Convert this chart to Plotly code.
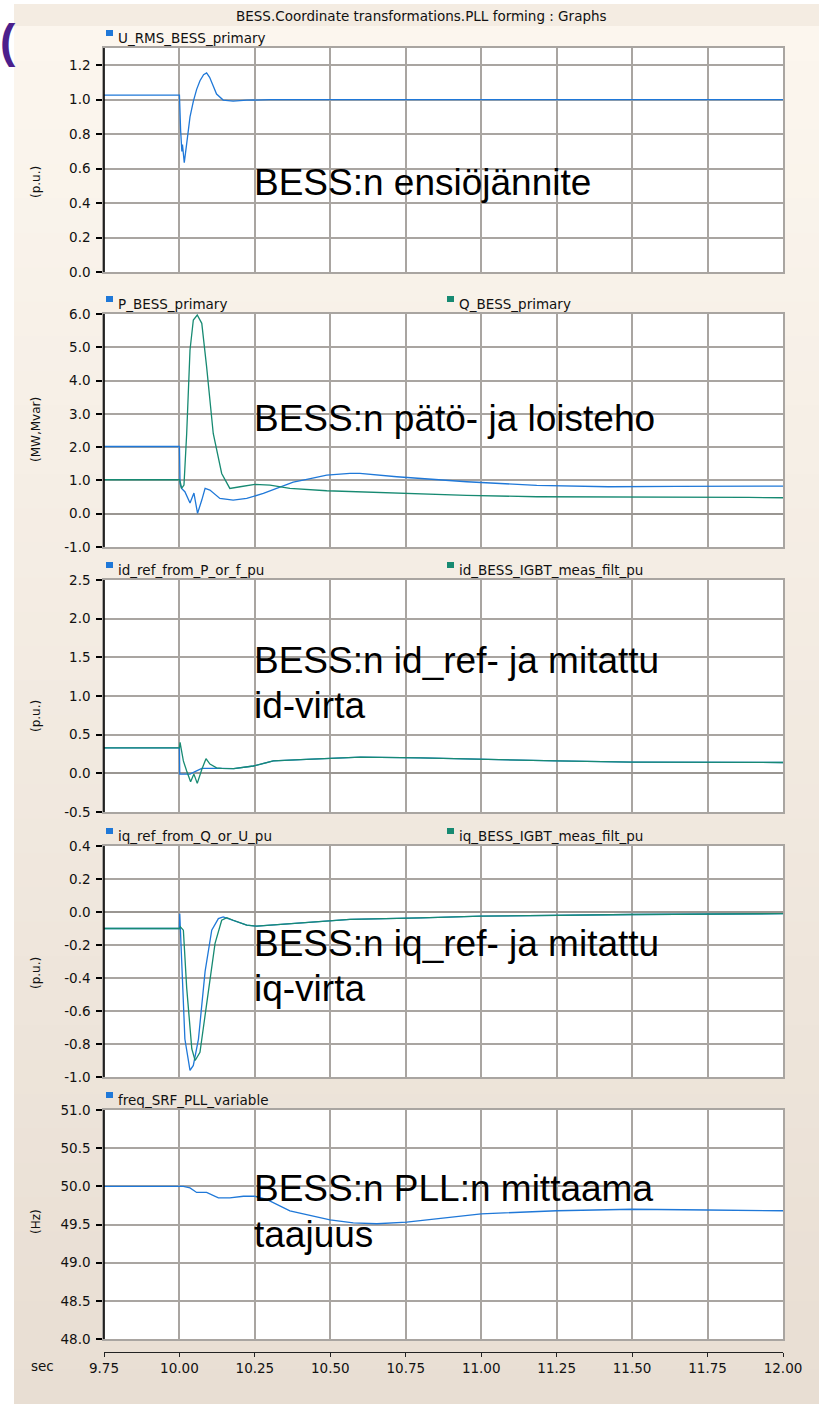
import plotly.graph_objects as go

W, H = 819, 1404

# ---- time series (s) and values ----
t_u = [9.75, 10.0, 10.004, 10.008, 10.010, 10.016, 10.024, 10.035, 10.046, 10.057, 10.068,
       10.08, 10.09, 10.10, 10.112, 10.123, 10.145, 10.178, 10.223, 10.3, 11.0, 12.0]
u_rms = [1.027, 1.027, 0.82, 0.70, 0.74, 0.635, 0.745, 0.90, 0.99, 1.06, 1.11,
         1.145, 1.155, 1.13, 1.08, 1.033, 0.998, 0.992, 0.997, 1.0, 1.0, 1.0]

t_p = [9.75, 10.0, 10.002, 10.007, 10.018, 10.035, 10.048, 10.060, 10.074, 10.085, 10.101,
       10.134, 10.178, 10.223, 10.278, 10.333, 10.377, 10.422, 10.488, 10.565, 10.598, 10.72,
       10.952, 11.184, 11.421, 11.648, 11.885, 12.0]
p_bess = [2.02, 2.02, 0.9, 0.76, 0.66, 0.32, 0.62, 0.01, 0.41, 0.76, 0.71,
          0.46, 0.41, 0.46, 0.61, 0.81, 0.95, 1.03, 1.16, 1.21, 1.21, 1.11,
          0.96, 0.85, 0.81, 0.82, 0.83, 0.83]

t_q = [9.75, 10.0, 10.004, 10.007, 10.015, 10.024, 10.035, 10.046, 10.059, 10.074, 10.090,
       10.112, 10.140, 10.167, 10.201, 10.250, 10.300, 10.366, 10.488, 10.72, 10.952,
       11.184, 11.421, 11.648, 11.885, 12.0]
q_bess = [1.02, 1.02, 0.9, 0.76, 0.86, 2.41, 4.92, 5.82, 5.97, 5.72, 4.42,
          2.41, 1.21, 0.76, 0.81, 0.88, 0.86, 0.76, 0.69, 0.61, 0.55,
          0.51, 0.51, 0.50, 0.49, 0.48]

t_idref = [9.75, 10.0, 10.001, 10.035, 10.05, 10.074, 10.14, 10.18, 10.245, 10.311, 10.42,
           10.6, 10.8, 11.0, 11.25, 11.5, 11.75, 12.0]
id_ref = [0.33, 0.33, -0.01, -0.01, 0.02, 0.065, 0.065, 0.06, 0.095, 0.16, 0.18,
          0.21, 0.20, 0.18, 0.16, 0.145, 0.14, 0.14]

t_idmeas = [9.75, 10.0, 10.002, 10.013, 10.024, 10.037, 10.048, 10.059, 10.074, 10.088, 10.101,
            10.123, 10.14, 10.18, 10.245, 10.311, 10.42, 10.6, 10.8, 11.0, 11.25, 11.5, 11.75, 12.0]
id_meas = [0.33, 0.33, 0.40, 0.16, 0.03, -0.11, -0.01, -0.13, 0.05, 0.19, 0.12,
           0.07, 0.065, 0.06, 0.095, 0.16, 0.18, 0.21, 0.20, 0.18, 0.16, 0.145, 0.14, 0.14]

t_iqref = [9.75, 10.0, 10.001, 10.007, 10.018, 10.035, 10.046, 10.063, 10.085, 10.107, 10.129,
           10.145, 10.178, 10.223, 10.256, 10.366, 10.565, 10.8, 11.0, 11.5, 12.0]
iq_ref = [-0.10, -0.10, -0.01, -0.30, -0.77, -0.96, -0.93, -0.77, -0.36, -0.11, -0.04,
          -0.03, -0.05, -0.08, -0.086, -0.07, -0.045, -0.035, -0.025, -0.015, -0.01]

t_iqmeas = [9.75, 10.0, 10.003, 10.013, 10.024, 10.041, 10.052, 10.068, 10.090, 10.118, 10.140,
            10.157, 10.178, 10.223, 10.256, 10.366, 10.565, 10.8, 11.0, 11.5, 12.0]
iq_meas = [-0.10, -0.10, -0.09, -0.11, -0.46, -0.83, -0.90, -0.85, -0.56, -0.19, -0.05,
           -0.034, -0.05, -0.08, -0.086, -0.07, -0.045, -0.035, -0.025, -0.015, -0.01]

t_f = [9.75, 10.0, 10.013, 10.035, 10.057, 10.090, 10.107, 10.129, 10.167, 10.212, 10.250,
       10.289, 10.366, 10.432, 10.499, 10.576, 10.654, 10.753, 11.0, 11.25, 11.5, 11.75, 12.0]
freq = [50.0, 50.0, 50.0, 49.98, 49.92, 49.92, 49.89, 49.85, 49.85, 49.87, 49.87,
        49.83, 49.68, 49.62, 49.56, 49.52, 49.51, 49.53, 49.64, 49.68, 49.70, 49.69, 49.68]

# ---- tick labels ----
x_ticks = [9.75, 10.0, 10.25, 10.5, 10.75, 11.0, 11.25, 11.5, 11.75, 12.0]
x_labels = ["9.75", "10.00", "10.25", "10.50", "10.75", "11.00", "11.25", "11.50", "11.75", "12.00"]
y1_ticks = [0.0, 0.2, 0.4, 0.6, 0.8, 1.0, 1.2]
y2_ticks = [-1, 0, 1, 2, 3, 4, 5, 6]
y3_ticks = [-0.5, 0.0, 0.5, 1.0, 1.5, 2.0, 2.5]
y4_ticks = [-1.0, -0.8, -0.6, -0.4, -0.2, 0.0, 0.2, 0.4]
y5_ticks = [48.0, 48.5, 49.0, 49.5, 50.0, 50.5, 51.0]


def fmt(v):
    return "%.1f" % v


BLUE = "#1f78d8"
GREEN = "#178a72"
GRID = "#a9a5a1"
AXFONT = "DejaVu Sans, sans-serif"
BIGFONT = "Liberation Sans, Arial, sans-serif"
SMALL = 13.5


def px(x):
    return x / W


def py(y):
    return 1 - y / H


# panel pixel boxes (top, bottom)
panels = [(48, 272), (314, 547), (580, 812), (846, 1077), (1110, 1339)]
XL, XR = 104, 783

fig = go.Figure()

series = [
    (1, t_u, u_rms, BLUE),
    (2, t_p, p_bess, BLUE),
    (2, t_q, q_bess, GREEN),
    (3, t_idref, id_ref, BLUE),
    (3, t_idmeas, id_meas, GREEN),
    (4, t_iqref, iq_ref, BLUE),
    (4, t_iqmeas, iq_meas, GREEN),
    (5, t_f, freq, BLUE),
]
for k, xs, ys, col in series:
    sfx = "" if k == 1 else str(k)
    fig.add_trace(go.Scatter(x=xs, y=ys, mode="lines", line=dict(color=col, width=1.3),
                             xaxis="x" + sfx, yaxis="y" + sfx, showlegend=False,
                             hoverinfo="skip"))
# carrier for the shared time axis under the last panel
fig.add_trace(go.Scatter(x=[9.75, 12.0], y=[None, None], xaxis="x6", yaxis="y5",
                         showlegend=False, hoverinfo="skip"))

yspecs = [
    ([0, 1.3], y1_ticks),
    ([-1, 6], y2_ticks),
    ([-0.5, 2.5], y3_ticks),
    ([-1.0, 0.4], y4_ticks),
    ([48, 51], y5_ticks),
]

layout = dict(
    template="none",
    width=W, height=H, autosize=False,
    margin=dict(l=0, r=0, t=0, b=0, pad=0),
    paper_bgcolor="white", plot_bgcolor="rgba(0,0,0,0)",
    showlegend=False,
)

for i, ((top, bot), (rng, tv)) in enumerate(zip(panels, yspecs)):
    k = i + 1
    sfx = "" if k == 1 else str(k)
    layout["xaxis" + sfx] = dict(
        domain=[px(XL), px(XR)], anchor="y" + sfx, range=[9.75, 12.0], automargin=False,
        tickvals=x_ticks, showticklabels=False, ticks="",
        showgrid=True, gridcolor=GRID, gridwidth=1.5,
        showline=True, linecolor=GRID, linewidth=1.5, mirror=True, zeroline=False,
    )
    layout["yaxis" + sfx] = dict(
        domain=[py(bot), py(top)], anchor="x" + sfx, range=rng, automargin=False,
        tickvals=tv, ticktext=[fmt(v) for v in tv],
        ticks="outside", ticklen=6, tickwidth=1.5, tickcolor="black",
        ticklabelstandoff=3,
        tickfont=dict(family=AXFONT, size=SMALL, color="#111"),
        showgrid=True, gridcolor=GRID, gridwidth=1.5,
        zeroline=True, zerolinecolor="#9a9692", zerolinewidth=2,
        showline=True, linecolor=GRID, linewidth=1.5, mirror=True,
    )

layout["xaxis6"] = dict(
    overlaying="x5", anchor="free", position=py(1352), side="bottom", automargin=False,
    range=[9.75, 12.0], tickvals=x_ticks, ticktext=x_labels,
    ticks="outside", ticklen=4, tickcolor="#222", tickwidth=1,
    showline=True, linecolor="#222", linewidth=1, showgrid=False, zeroline=False,
    tickfont=dict(family=AXFONT, size=SMALL, color="#111"),
)

shapes = []
# beige backdrop, lighter at the top and darker towards the bottom
top_c, bot_c = (252, 246, 238), (232, 222, 211)
nb = 40
y0p = 26
for b in range(nb):
    ya = y0p + (H - y0p) * b / nb
    yb = y0p + (H - y0p) * (b + 1) / nb + 1
    f = b / (nb - 1)
    c = tuple(int(round(top_c[j] + (bot_c[j] - top_c[j]) * f)) for j in range(3))
    shapes.append(dict(type="rect", xref="paper", yref="paper", x0=px(14), x1=1,
                       y0=py(yb), y1=py(ya), fillcolor="rgb(%d,%d,%d)" % c,
                       line=dict(width=0), layer="below"))
# title strip
shapes.append(dict(type="rect", xref="paper", yref="paper", x0=px(14), x1=1,
                   y0=py(26), y1=py(4), fillcolor="#f4ece2", line=dict(width=0), layer="below"))
# white plot areas and black left axis lines
for top, bot in panels:
    shapes.append(dict(type="rect", xref="paper", yref="paper", x0=px(XL), x1=px(XR),
                       y0=py(bot), y1=py(top), fillcolor="white", line=dict(width=0),
                       layer="below"))
    shapes.append(dict(type="line", xref="paper", yref="paper", x0=px(XL), x1=px(XL),
                       y0=py(bot), y1=py(top), line=dict(color="black", width=1.6)))

# legend swatches and names
legend_items = [
    (38, 106, BLUE, "U_RMS_BESS_primary"),
    (304, 106, BLUE, "P_BESS_primary"),
    (304, 447, GREEN, "Q_BESS_primary"),
    (570, 106, BLUE, "id_ref_from_P_or_f_pu"),
    (570, 447, GREEN, "id_BESS_IGBT_meas_filt_pu"),
    (836, 106, BLUE, "iq_ref_from_Q_or_U_pu"),
    (836, 447, GREEN, "iq_BESS_IGBT_meas_filt_pu"),
    (1100, 106, BLUE, "freq_SRF_PLL_variable"),
]
annotations = []
for yc, xs, col, name in legend_items:
    shapes.append(dict(type="rect", xref="paper", yref="paper", x0=px(xs), x1=px(xs + 7),
                       y0=py(yc - 2), y1=py(yc - 8), fillcolor=col, line=dict(width=0)))
    annotations.append(dict(xref="paper", yref="paper", x=px(xs + 10), y=py(yc),
                            text=name, showarrow=False, xanchor="left", yanchor="middle",
                            font=dict(family=AXFONT, size=SMALL, color="#111")))

# unit labels
for yc, txt in [(182, "(p.u.)"), (430, "(MW,Mvar)"), (716, "(p.u.)"), (973, "(p.u.)"), (1222, "(Hz)")]:
    annotations.append(dict(xref="paper", yref="paper", x=px(36), y=py(yc), text=txt,
                            textangle=-90, showarrow=False, xanchor="center", yanchor="middle",
                            font=dict(family=AXFONT, size=12, color="#111")))

annotations.append(dict(xref="paper", yref="paper", x=px(42), y=py(1366), text="sec",
                        showarrow=False, xanchor="center", yanchor="middle",
                        font=dict(family=AXFONT, size=SMALL, color="#111")))
annotations.append(dict(xref="paper", yref="paper", x=px(422), y=py(16),
                        text="BESS.Coordinate transformations.PLL forming : Graphs",
                        showarrow=False, xanchor="center", yanchor="middle",
                        font=dict(family=AXFONT, size=SMALL, color="#111")))
annotations.append(dict(xref="paper", yref="paper", x=px(-2), y=py(41), text="<b>(</b>",
                        showarrow=False, xanchor="left", yanchor="middle",
                        font=dict(family=BIGFONT, size=46, color="#4b1f8c")))

# panel captions
captions = [
    (182, "BESS:n ensiöjännite"),
    (418, "BESS:n pätö- ja loisteho"),
    (660, "BESS:n id_ref- ja mitattu"),
    (706, "id-virta"),
    (943, "BESS:n iq_ref- ja mitattu"),
    (988, "iq-virta"),
    (1188, "BESS:n PLL:n mittaama"),
    (1234, "taajuus"),
]
for yc, txt in captions:
    annotations.append(dict(xref="paper", yref="paper", x=px(252), y=py(yc), text=txt,
                            showarrow=False, xanchor="left", yanchor="middle",
                            font=dict(family=BIGFONT, size=37, color="black")))

layout["shapes"] = shapes
layout["annotations"] = annotations
fig.update_layout(**layout)

fig.write_html("out.html")
